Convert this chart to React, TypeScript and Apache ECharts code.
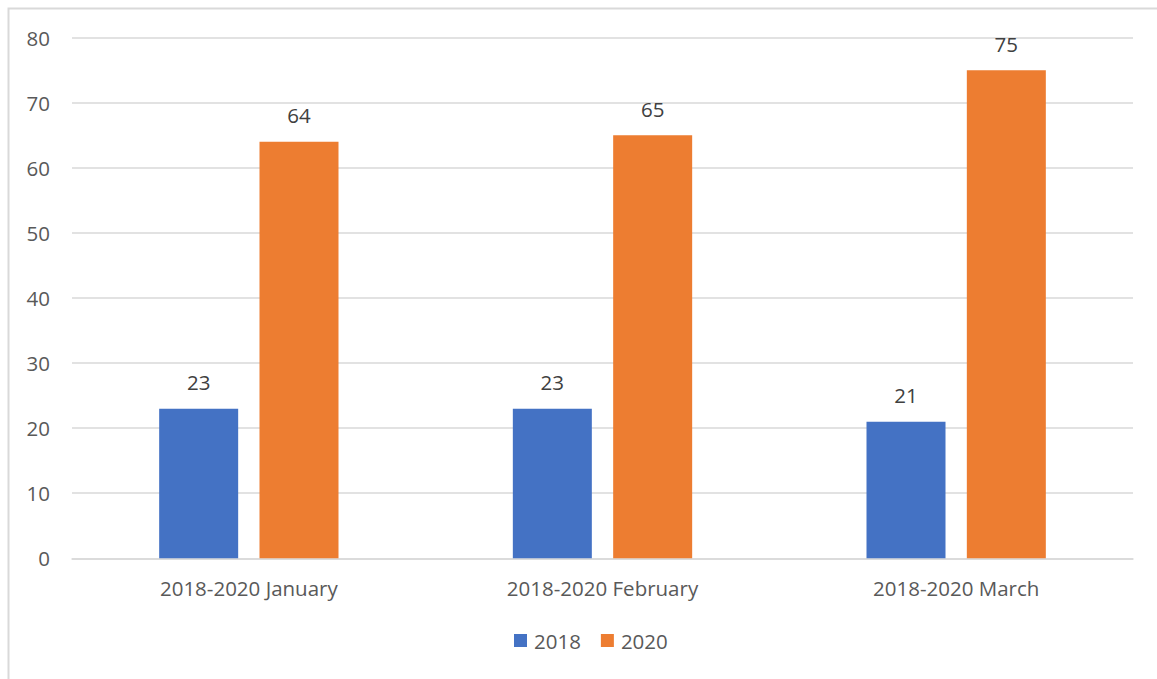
import React, { useEffect, useRef } from "react";
import * as echarts from "echarts";

const categories = ["2018-2020 January", "2018-2020 February", "2018-2020 March"];
const series2018 = [23, 23, 21];
const series2020 = [64, 65, 75];
const seriesNames = ["2018", "2020"];

const FONT = "'Open Sans', 'Noto Sans', sans-serif";
const TEXT = "#595959";
const FS = 20.5;

export default function App() {
  const ref = useRef<HTMLDivElement>(null);
  useEffect(() => {
    if (!ref.current) return;
    const chart = echarts.init(ref.current, null, { renderer: "svg" });
    chart.setOption({
      animation: false,
      backgroundColor: "#ffffff",
      textStyle: { fontFamily: FONT },
      graphic: [
        {
          type: "rect",
          shape: { x: 8.5, y: 8.5, width: 1170, height: 690 },
          style: { fill: "none", stroke: "#d9d9d9", lineWidth: 2 },
          silent: true,
        },
      ],
      grid: { left: 72, right: 24, top: 37.7, bottom: 120.7, containLabel: false },
      legend: {
        data: seriesNames,
        top: 625,
        left: 509,
        itemWidth: 13,
        itemHeight: 13,
        itemGap: 20,
        icon: "rect",
        textStyle: { color: TEXT, fontSize: FS, fontFamily: FONT, padding: [0, 0, 0, 2] },
      },
      xAxis: {
        type: "category",
        data: categories,
        axisLine: { show: true, lineStyle: { color: "#d9d9d9", width: 1.5 } },
        axisTick: { show: false },
        axisLabel: { color: TEXT, fontSize: FS, margin: 19, fontFamily: FONT },
      },
      yAxis: {
        type: "value",
        min: 0,
        max: 80,
        interval: 10,
        axisLine: { show: false },
        axisTick: { show: false },
        splitLine: { lineStyle: { color: "#d9d9d9", width: 1.5 } },
        axisLabel: { color: TEXT, fontSize: FS, margin: 22, fontFamily: FONT },
      },
      series: [
        {
          name: seriesNames[0],
          type: "bar",
          data: series2018,
          barWidth: 79,
          barGap: "27%",
          itemStyle: { color: "#4472C4" },
          label: { show: true, position: "top", distance: 16, color: "#404040", fontSize: FS, fontFamily: FONT },
        },
        {
          name: seriesNames[1],
          type: "bar",
          data: series2020,
          barWidth: 79,
          barGap: "27%",
          itemStyle: { color: "#ED7D31" },
          label: { show: true, position: "top", distance: 16, color: "#404040", fontSize: FS, fontFamily: FONT },
        },
      ],
    });
    return () => chart.dispose();
  }, []);
  return (
    <div
      ref={ref}
      style={{ position: "fixed", left: 0, top: 0, width: 1157, height: 679 }}
    />
  );
}
